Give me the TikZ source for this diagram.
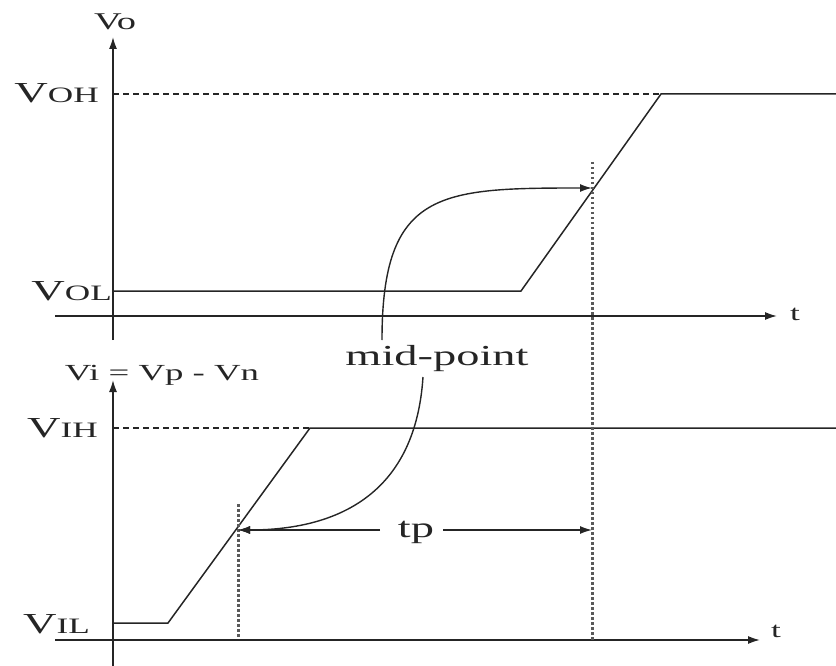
\documentclass[tikz,border=0pt]{standalone}
\usepackage{fontspec}
\setmainfont{Liberation Serif}
\usepackage{graphicx}
\usetikzlibrary{arrows.meta}
\definecolor{ink}{HTML}{252525}
\definecolor{dotc}{HTML}{5A5A5A}
\newcommand{\sx}[1]{\scalebox{1.6}[1]{#1}}
\newcommand{\fs}[1]{\fontsize{#1}{#1}\selectfont}
\newcommand{\lv}[1]{\sx{\fs{29}V\fs{22}#1}}
\begin{document}
\begin{tikzpicture}[x=1pt,y=-1pt,
  sig/.style={draw=ink, line width=1.5pt, line join=miter},
  axis/.style={draw=ink, line width=1.6pt, -{Latex[length=12pt,width=8pt]}},
  guide/.style={draw=ink, line width=1.1pt, dash pattern=on 6pt off 4pt},
  dotline/.style={draw=dotc, line width=3pt, dash pattern=on 2.5pt off 2.5pt},
  ptr/.style={draw=ink, line width=1.4pt, -{Latex[length=12pt,width=8pt]}},
  lab/.style={text=ink, inner sep=0pt}
]
\useasboundingbox (0,0) rectangle (836,666);

% ---------- upper plot ----------
\coordinate (ya0) at (113,340);
\coordinate (ya1) at (113,37);
\coordinate (ta0) at (55,316);
\coordinate (ta1) at (777,316);
\draw[axis] (ya0) -- (ya1);
\draw[axis] (ta0) -- (ta1);
\node[lab, anchor=base] (vo) at (115,30) {\sx{\fs{24}Vo}};
\node[lab, anchor=base west] (tt) at (790,320) {\sx{\fs{22}t}};

\node[lab, anchor=base east] (voh) at (99,103) {\lv{OH}};
\node[lab, anchor=base east] (vol) at (112,300) {\lv{OL}};

\coordinate (o0) at (113,291);
\coordinate (o1) at (521,291);
\coordinate (o2) at (661,94);
\coordinate (o3) at (836,94);
\coordinate (oh0) at (113,94);
\draw[guide] (oh0) -- (o2);
\draw[sig] (o0) -- (o1) -- (o2) -- (o3);

% ---------- lower plot ----------
\coordinate (yb0) at (113,666);
\coordinate (yb1) at (113,380);
\coordinate (tb0) at (55,640);
\coordinate (tb1) at (760,640);
\coordinate (tbk0) at (211,640);
\coordinate (tbk1) at (310,640);
\draw[axis] (yb0) -- (yb1);
\draw[axis] (tb0) -- (tb1);
\draw[draw=ink, line width=2.1pt] (tbk0) -- (tbk1);
\node[lab, anchor=base] (vi) at (162,380) {\sx{\fs{23}Vi = Vp - Vn}};
\node[lab, anchor=base west] (tb) at (771,637) {\sx{\fs{22}t}};

\node[lab, anchor=base east] (vih) at (98,437) {\lv{IH}};
\node[lab, anchor=base east] (vil) at (90,633) {\lv{IL}};

\coordinate (i0) at (113,623);
\coordinate (i1) at (168,623);
\coordinate (i2) at (310,428);
\coordinate (i3) at (836,428);
\coordinate (ih0) at (113,428);
\draw[guide] (ih0) -- (i2);
\draw[sig] (i0) -- (i1) -- (i2) -- (i3);

% ---------- mid-point markers ----------
\coordinate (mo) at (592,188);
\coordinate (mi) at (238,530);
\coordinate (dA0) at (592,162);
\coordinate (dA1) at (592,640);
\coordinate (dB0) at (238,504);
\coordinate (dB1) at (238,638);
\draw[dotline] (dA0) -- (dA1);
\draw[dotline] (dB0) -- (dB1);

\node[lab, anchor=base] (mid) at (437,365) {\sx{\fs{29}mid-point}};
\coordinate (mtop) at (382,340);
\coordinate (mbot) at (423,377);
\draw[ptr] (mtop) .. controls (382,190) and (440,188) .. (mo);
\draw[ptr] (mbot) .. controls (415,500) and (330,530) .. (mi);

% ---------- tp ----------
\node[lab, anchor=base] (tp) at (416,537) {\sx{\fs{29}tp}};
\coordinate (tpl) at (380,530);
\coordinate (tpr) at (443,530);
\draw[ptr] (tpl) -- (mi);
\draw[ptr] (tpr) -- (dA1 |- mi);
\end{tikzpicture}
\end{document}
